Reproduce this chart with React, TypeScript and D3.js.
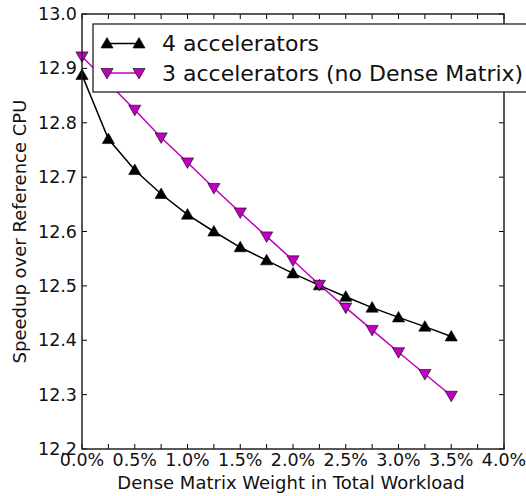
import { scaleLinear, line, symbol, symbolTriangle, range } from "d3";

const width = 526;
const height = 496;
const margin = { top: 14, right: 22, bottom: 47, left: 82 };

const weights = [0, 0.25, 0.5, 0.75, 1.0, 1.25, 1.5, 1.75, 2.0, 2.25, 2.5, 2.75, 3.0, 3.25, 3.5];
const fourAcc = [12.888, 12.770, 12.713, 12.669, 12.631, 12.600, 12.571, 12.547, 12.523, 12.501, 12.480, 12.460, 12.442, 12.425, 12.407];
const threeAcc = [12.922, 12.873, 12.824, 12.773, 12.727, 12.680, 12.635, 12.591, 12.547, 12.502, 12.460, 12.419, 12.378, 12.338, 12.298];

const xTickLabels = ["0.0%", "0.5%", "1.0%", "1.5%", "2.0%", "2.5%", "3.0%", "3.5%", "4.0%"];
const yTickLabels = ["12.2", "12.3", "12.4", "12.5", "12.6", "12.7", "12.8", "12.9", "13.0"];

const magenta = "#bf00bf";
const font = "DejaVu Sans, sans-serif";

const series = [
  { label: "4 accelerators", values: fourAcc, color: "black", fill: "black", up: true },
  { label: "3 accelerators (no Dense Matrix)", values: threeAcc, color: magenta, fill: magenta, up: false },
];

const triPath = symbol().type(symbolTriangle).size(64)();

const Marker = ({ x, y, fill, up }) => (
  <path
    d={triPath}
    transform={`translate(${x},${y + (up ? 1 : -1)}) rotate(${up ? 0 : 180})`}
    fill={fill}
    stroke="black"
    strokeWidth={0.6}
  />
);

const App = () => {
  const innerWidth = width - margin.left - margin.right;
  const innerHeight = height - margin.top - margin.bottom;

  const xScale = scaleLinear().domain([0, 4]).range([0, innerWidth]);
  const yScale = scaleLinear().domain([12.2, 13.0]).range([innerHeight, 0]);

  const lineGenerator = line()
    .x((d) => xScale(d[0]))
    .y((d) => yScale(d[1]));

  const xTicks = range(0, 4.001, 0.25);
  const yTicks = yScale.ticks(8);
  const tickLen = 5;

  return (
    <svg
      width={width}
      height={height}
      style={{ position: "absolute", left: 0, top: 0, background: "white" }}
      fontFamily={font}
    >
      <g transform={`translate(${margin.left},${margin.top})`}>
        {series.map((s, i) => (
          <g key={i}>
            <path
              d={lineGenerator(weights.map((w, j) => [w, s.values[j]]))}
              fill="none"
              stroke={s.color}
              strokeWidth={1.5}
            />
            {weights.map((w, j) => (
              <Marker key={j} x={xScale(w)} y={yScale(s.values[j])} fill={s.fill} up={s.up} />
            ))}
          </g>
        ))}

        {xTicks.map((t, i) => (
          <g key={i} transform={`translate(${xScale(t)},0)`}>
            <line y1={innerHeight} y2={innerHeight - tickLen} stroke="black" />
            <line y1={0} y2={tickLen} stroke="black" />
          </g>
        ))}
        {xTickLabels.map((lab, i) => (
          <text
            key={i}
            x={xScale(i * 0.5)}
            y={innerHeight + 17}
            textAnchor="middle"
            fontSize={17.5}
            fill="#111"
          >
            {lab}
          </text>
        ))}

        {yTicks.map((t, i) => (
          <g key={i} transform={`translate(0,${yScale(t)})`}>
            <line x1={0} x2={tickLen} stroke="black" />
            <line x1={innerWidth} x2={innerWidth - tickLen} stroke="black" />
            <text x={-5} y={6} textAnchor="end" fontSize={17.5} fill="#111">
              {yTickLabels[i]}
            </text>
          </g>
        ))}

        <rect
          width={innerWidth}
          height={innerHeight}
          fill="none"
          stroke="#222"
          strokeWidth={1.5}
        />

        <text
          x={innerWidth / 2 - 2}
          y={innerHeight + 40}
          textAnchor="middle"
          fontSize={18}
          fill="#111"
        >
          Dense Matrix Weight in Total Workload
        </text>
      </g>

      <text
        transform={`translate(26,${margin.top + innerHeight / 2}) rotate(-90)`}
        textAnchor="middle"
        fontSize={18}
        fill="#111"
      >
        Speedup over Reference CPU
      </text>

      <g transform="translate(93,24)">
        <rect width={440} height={68} fill="white" stroke="#222" strokeWidth={1.3} />
        {series.map((s, i) => (
          <g key={i} transform={`translate(0,${19.5 + i * 29.5})`}>
            <line x1={14} x2={46} stroke={s.color} strokeWidth={1.5} />
            <Marker x={14} y={0} fill={s.fill} up={s.up} />
            <Marker x={46} y={0} fill={s.fill} up={s.up} />
            <text x={69} y={7.5} fontSize={22} fill="#111">
              {s.label}
            </text>
          </g>
        ))}
      </g>
    </svg>
  );
};

export default App;
